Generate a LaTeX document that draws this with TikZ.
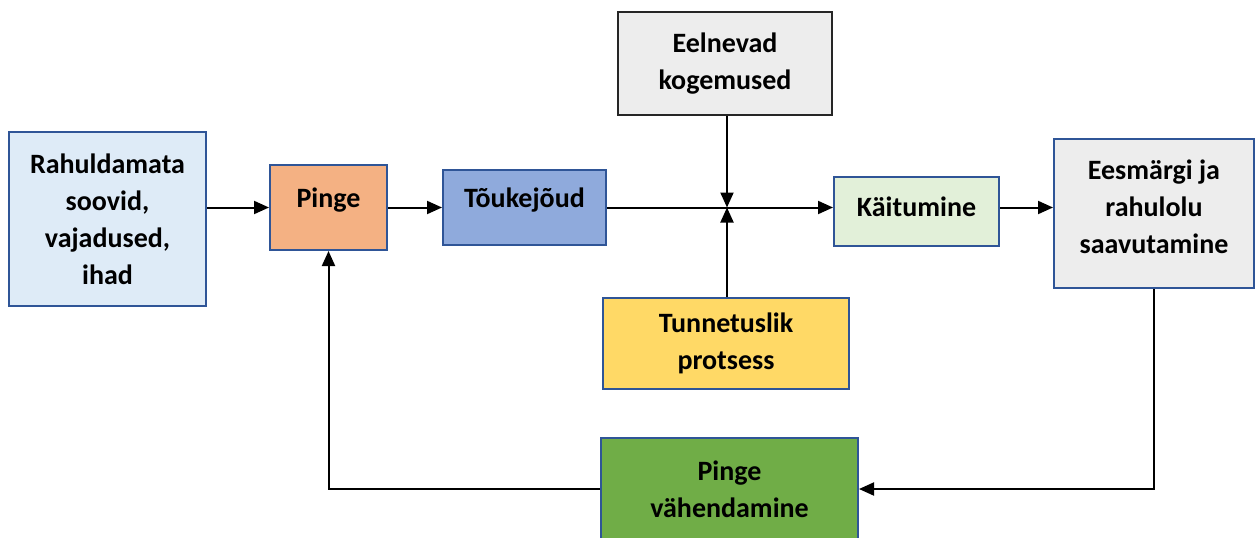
\documentclass[tikz,border=0pt]{standalone}
\usepackage{fontspec}
\setmainfont{Carlito}
\usetikzlibrary{arrows.meta}

\definecolor{boxline}{HTML}{2F5597}
\definecolor{greyline}{HTML}{262626}
\definecolor{wantfill}{HTML}{DEEBF7}
\definecolor{tensionfill}{HTML}{F4B183}
\definecolor{drivefill}{HTML}{8FAADC}
\definecolor{pastfill}{HTML}{EDEDED}
\definecolor{actfill}{HTML}{E2F0D9}
\definecolor{cogfill}{HTML}{FFD966}
\definecolor{reducefill}{HTML}{70AD47}

\tikzset{
  box/.style={draw=boxline, line width=2pt, align=center, inner sep=0pt,
    font=\fontsize{28}{37}\selectfont\bfseries},
  flow/.style={line width=2pt, -{Triangle[length=15pt,width=13pt]}},
}

\begin{document}
\begin{tikzpicture}[x=1pt,y=-1pt]
  \clip (0,0) rectangle (1259,538);

  % kastid
  \node[box, fill=wantfill, minimum width=197pt, minimum height=174pt] (rahuldamata) at (107.5,219) {Rahuldamata\\soovid,\\vajadused,\\ihad};
  \node[box, fill=tensionfill, minimum width=117pt, minimum height=85pt, text depth=19pt] (pinge) at (328.5,207.5) {Pinge};
  \node[box, fill=drivefill, minimum width=163pt, minimum height=75pt, text depth=19pt] (toukejoud) at (524.5,207.5) {Tõukejõud};
  \node[box, draw=greyline, fill=pastfill, minimum width=214pt, minimum height=103pt] (eelnevad) at (725,63.5) {Eelnevad\\kogemused};
  \node[box, fill=actfill, minimum width=165pt, minimum height=69pt, text depth=10pt] (kaitumine) at (916.5,211.5) {Käitumine};
  \node[box, fill=pastfill, minimum width=200pt, minimum height=149pt, text depth=14pt] (eesmark) at (1154,213.5) {Eesmärgi ja\\rahulolu\\saavutamine};
  \node[box, fill=cogfill, minimum width=246pt, minimum height=91pt] (tunnetuslik) at (726,343.5) {Tunnetuslik\\protsess};
  \node[box, fill=reducefill, minimum width=257pt, minimum height=102pt] (vahendamine) at (729.5,489) {Pinge\\vähendamine};

  \coordinate (junction) at (727,207.5);

  % nooled
  \draw[flow] (rahuldamata.east |- pinge.west) -- (pinge.west);
  \draw[flow] (pinge.east) -- (toukejoud.west);
  \draw[flow] (toukejoud.east) -- (kaitumine.west |- junction);
  \draw[flow] (eelnevad.south -| junction) -- (junction);
  \draw[flow] (tunnetuslik.north -| junction) -- (junction);
  \draw[flow] (kaitumine.east |- junction) -- (eesmark.west |- junction);
  \draw[flow] (eesmark.south) -- (eesmark.south |- vahendamine.east) -- (vahendamine.east);
  \draw[flow] (vahendamine.west) -- (pinge.south |- vahendamine.west) -- (pinge.south);
\end{tikzpicture}
\end{document}
